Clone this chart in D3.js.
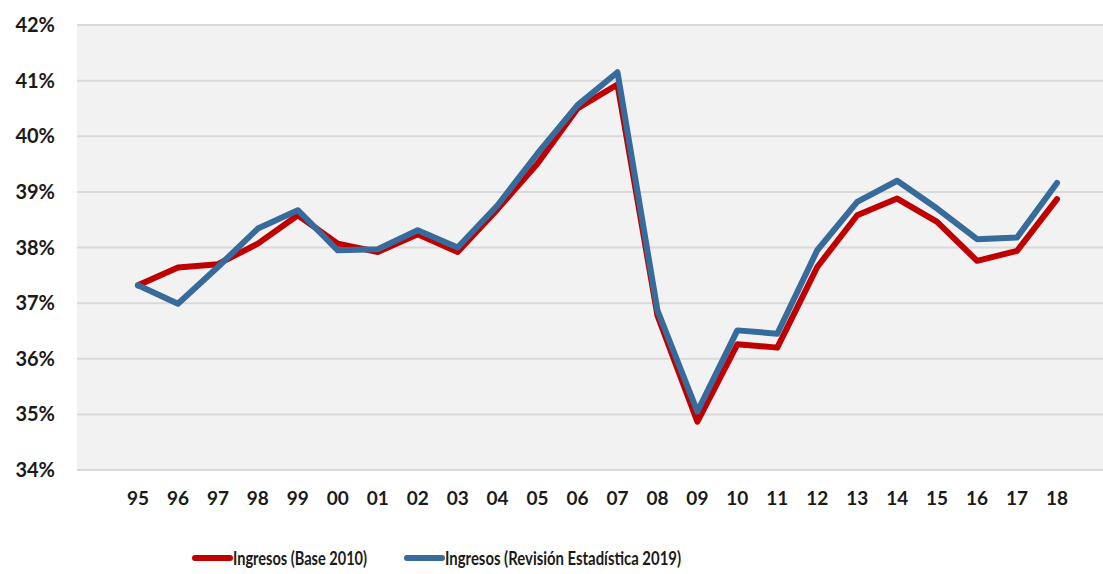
<!DOCTYPE html>
<html>
<head>
<meta charset="utf-8">
<script src="https://cdn.jsdelivr.net/npm/d3@7"></script>
<style>
  body { margin: 0; background: #fff; }
  text { font-family: Lato, "Open Sans", sans-serif; font-weight: bold; fill: #1a1a1a; }
</style>
</head>
<body>
<script>
// years shown on the x axis
var years = ["95","96","97","98","99","00","01","02","03","04","05","06","07","08","09","10","11","12","13","14","15","16","17","18"];
// Ingresos (Base 2010), % of GDP
var base2010 = [37.32,37.64,37.70,38.07,38.58,38.07,37.92,38.24,37.92,38.69,39.51,40.50,40.93,36.78,34.87,36.26,36.20,37.65,38.58,38.88,38.46,37.76,37.94,38.87];
// Ingresos (Revisión Estadística 2019)
var rev2019 = [37.32,36.99,37.65,38.34,38.67,37.95,37.97,38.31,38.00,38.76,39.69,40.56,41.15,36.87,35.05,36.51,36.45,37.95,38.82,39.20,38.70,38.15,38.18,39.16];
var yTicks = [34,35,36,37,38,39,40,41,42];
var seriesNames = ["Ingresos (Base 2010)", "Ingresos (Revisión Estadística 2019)"];
var colors = ["#C00000", "#376B9B"];

var width = 1103, height = 574;

var svg = d3.select("body").append("svg")
    .attr("width", width)
    .attr("height", height);

var x = d3.scalePoint()
    .domain(years)
    .range([138, 1057]);

var y = d3.scaleLinear()
    .domain([34, 42])
    .range([470, 25]);

// plot background
svg.append("rect")
    .attr("x", 77).attr("y", y(42))
    .attr("width", width - 77).attr("height", y(34) - y(42))
    .attr("fill", "#F2F2F2");

// gridlines
svg.selectAll(".grid")
    .data(yTicks)
    .enter().append("line")
    .attr("class", "grid")
    .attr("x1", 77).attr("x2", width)
    .attr("y1", function(d) { return y(d); })
    .attr("y2", function(d) { return y(d); })
    .attr("stroke", "#D9D9D9")
    .attr("stroke-width", 2);

// y labels
svg.selectAll(".ylab")
    .data(yTicks)
    .enter().append("text")
    .attr("class", "ylab")
    .attr("x", 55)
    .attr("y", function(d) { return y(d); })
    .attr("dy", "0.35em")
    .attr("text-anchor", "end")
    .attr("font-size", 20)
    .text(function(d) { return d + "%"; });

// x labels
svg.selectAll(".xlab")
    .data(years)
    .enter().append("text")
    .attr("class", "xlab")
    .attr("x", function(d) { return x(d); })
    .attr("y", 498)
    .attr("dy", "0.35em")
    .attr("text-anchor", "middle")
    .attr("font-size", 19)
    .text(function(d) { return d; });

var line = d3.line()
    .x(function(d, i) { return x(years[i]); })
    .y(function(d) { return y(d); });

[base2010, rev2019].forEach(function(s, i) {
    svg.append("path")
        .datum(s)
        .attr("d", line)
        .attr("fill", "none")
        .attr("stroke", colors[i])
        .attr("stroke-width", 6)
        .attr("stroke-linejoin", "round")
        .attr("stroke-linecap", "round");
});

// legend (text squeezed to match the narrow original font)
var legendX = [193, 405],
    legendW = [134, 236];
seriesNames.forEach(function(name, i) {
    var g = svg.append("g").attr("transform", "translate(" + legendX[i] + ",558)");
    g.append("line")
        .attr("x1", 2).attr("x2", 37)
        .attr("stroke", colors[i])
        .attr("stroke-width", 6)
        .attr("stroke-linecap", "round");
    g.append("text")
        .attr("x", 40)
        .attr("dy", "0.35em")
        .attr("font-size", 19)
        .attr("textLength", legendW[i])
        .attr("lengthAdjust", "spacingAndGlyphs")
        .text(name);
});
</script>
</body>
</html>
